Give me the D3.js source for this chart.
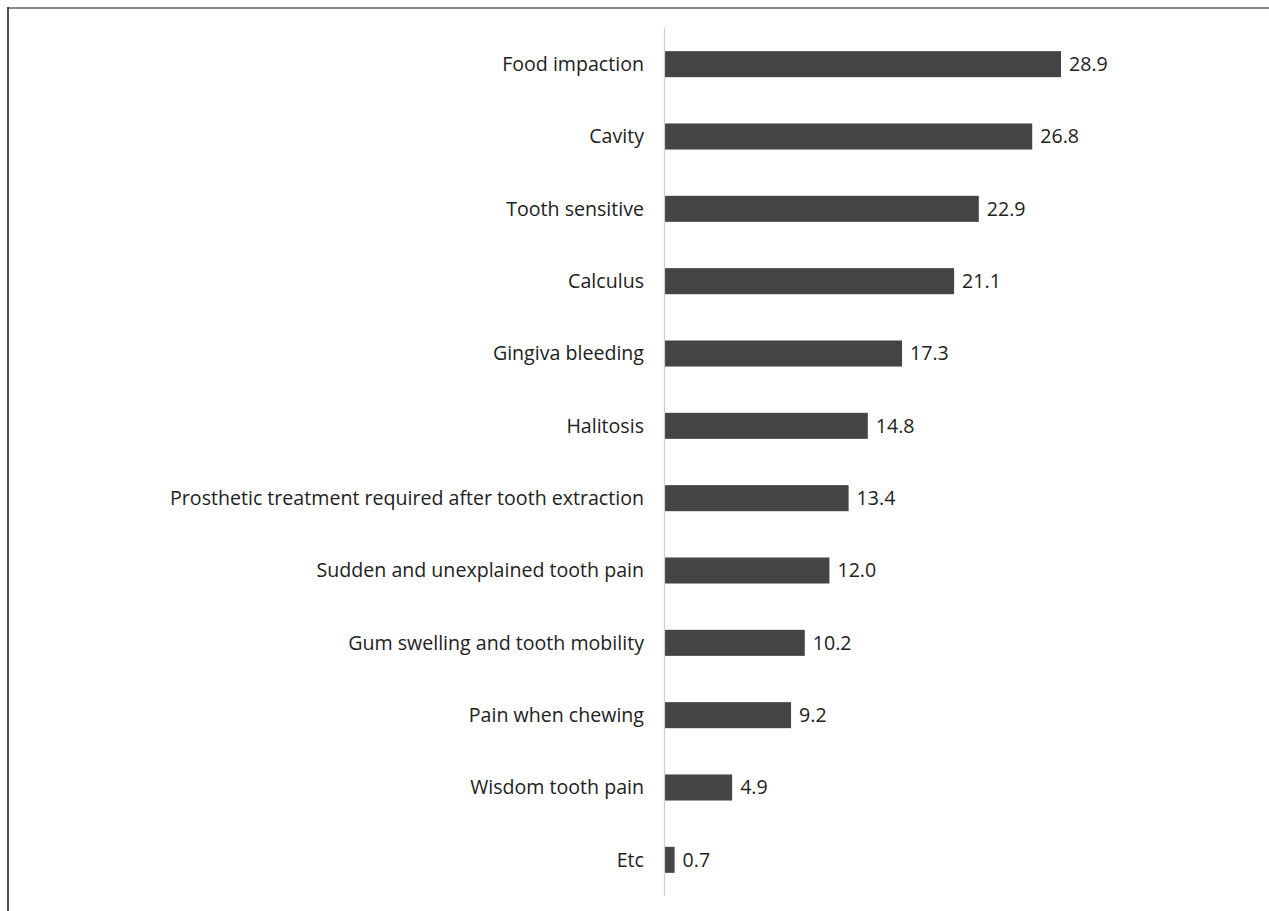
<!DOCTYPE html>
<html><head><meta charset="utf-8">
<script src="https://cdn.jsdelivr.net/npm/d3@7"></script>
<style>html,body{margin:0;padding:0;background:#fff}svg{display:block}</style>
</head><body>
<svg id="c" width="1269" height="911"></svg>
<script>
const categories = ["Food impaction","Cavity","Tooth sensitive","Calculus","Gingiva bleeding","Halitosis","Prosthetic treatment required after tooth extraction","Sudden and unexplained tooth pain","Gum swelling and tooth mobility","Pain when chewing","Wisdom tooth pain","Etc"];
const values = [28.9,26.8,22.9,21.1,17.3,14.8,13.4,12.0,10.2,9.2,4.9,0.7];

const svg = d3.select("#c");
const x0 = 665;
const x = d3.scaleLinear().domain([0, 28.9]).range([x0, 1061]);
const y = d3.scaleBand().domain(categories).range([28, 896]).paddingInner(0.64).paddingOuter(0.32);

// frame lines
svg.append("line").attr("x1",8).attr("x2",1269).attr("y1",8).attr("y2",8).attr("stroke","#8a8a8a").attr("stroke-width",2);
svg.append("line").attr("x1",8).attr("x2",8).attr("y1",7).attr("y2",911).attr("stroke","#222").attr("stroke-width",1.6);

const font = "'Open Sans', sans-serif";
const fs = 19.6;

svg.selectAll("rect.bar").data(values).enter().append("rect")
  .attr("class","bar")
  .attr("x", x(0))
  .attr("y", (d,i)=>y(categories[i]))
  .attr("width", d=>x(d)-x(0))
  .attr("height", y.bandwidth())
  .attr("fill","#444444");

// axis line
svg.append("line").attr("x1",664.5).attr("x2",664.5).attr("y1",28).attr("y2",896).attr("stroke","#cfcfcf").attr("stroke-width",1.2);

svg.selectAll("text.cat").data(categories).enter().append("text")
  .attr("class","cat")
  .attr("x", 644)
  .attr("y", d=>y(d)+y.bandwidth()/2)
  .attr("dy","0.35em")
  .attr("text-anchor","end")
  .attr("font-family",font).attr("font-size",fs).attr("fill","#222")
  .text(d=>d);

svg.selectAll("text.val").data(values).enter().append("text")
  .attr("class","val")
  .attr("x", d=>x(d)+8)
  .attr("y", (d,i)=>y(categories[i])+y.bandwidth()/2)
  .attr("dy","0.35em")
  .attr("font-family",font).attr("font-size",fs).attr("fill","#222")
  .text(d=>d.toFixed(1));
</script>
</body></html>
